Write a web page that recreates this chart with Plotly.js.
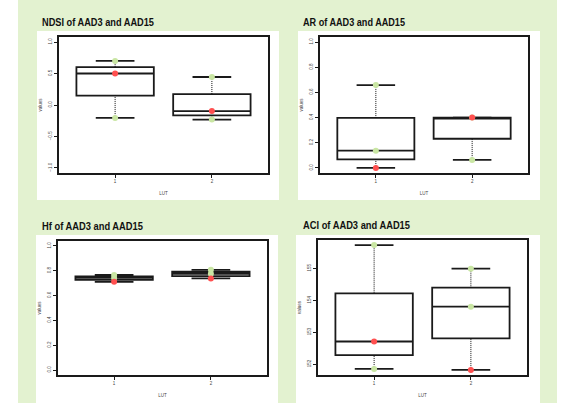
<!DOCTYPE html>
<html>
<head>
<meta charset="utf-8">
<script src="https://cdn.plot.ly/plotly-3.0.1.min.js"></script>
<style>html,body{margin:0;padding:0;background:#fff}#chart{width:562px;height:404px}</style>
</head>
<body>
<div id="chart"></div>
<script>
// ---- data ----
const lutCategories = [1, 2];
const lutTickLabels = ["1", "2"];
const panelTitles = ["NDSI of AAD3 and AAD15", "AR of AAD3 and AAD15", "Hf of AAD3 and AAD15", "ACI of AAD3 and AAD15"];

// green points and red point for each LUT group
const ndsiGreen = [[0.70, -0.205], [0.445, -0.232]];
const ndsiRed   = [[0.50], [-0.097]];
const arGreen   = [[0.658, 0.137], [0.40, 0.064]];
const arRed     = [[0.0], [0.40]];
const hfGreen   = [[0.766, 0.742], [0.808, 0.776]];
const hfRed     = [[0.711], [0.738]];
const aciGreen  = [[155.73, 151.85], [154.99, 153.80]];
const aciRed    = [[152.71], [151.82]];

const ndsiTicks = [-1.0, -0.5, 0.0, 0.5, 1.0];
const unitTicks = [0.0, 0.2, 0.4, 0.6, 0.8, 1.0];
const aciTicks  = [152, 153, 154, 155];

// ---- helpers ----
function fivenum(arr) {
  const x = arr.slice().sort((a, b) => a - b);
  const n = x.length;
  const n4 = Math.floor((n + 3) / 2) / 2;
  const d = [1, n4, (n + 1) / 2, n + 1 - n4, n];
  return d.map(v => 0.5 * (x[Math.floor(v) - 1] + x[Math.ceil(v) - 1]));
}

const W = 562, H = 404;
const px = v => v / W, py = v => 1 - v / H;

// layout geometry (pixels): frame, white panel, title position and rendered title width
const panels = [
  {frame: [59, 268, 37, 173],  white: [37, 279, 31, 200],  title: [40, 21.5],  titleW: 112},
  {frame: [320, 528, 37, 173], white: [298, 540, 31, 200], title: [301, 21.5], titleW: 102},
  {frame: [58, 267, 241, 375], white: [36, 278, 235, 403], title: [40, 225.5], titleW: 101},
  {frame: [318, 527, 240, 375],white: [296, 540, 235, 403],title: [301, 225],  titleW: 107}
];
const greens = [ndsiGreen, arGreen, hfGreen, aciGreen];
const reds = [ndsiRed, arRed, hfRed, aciRed];
const yRanges = [[-1.08, 1.08], [-0.04, 1.04], [-0.04, 1.04], [151.66, 155.89]];
const yTicks = [ndsiTicks, unitTicks, unitTicks, aciTicks];
const yFormats = [".1f", ".1f", ".1f", "d"];

const boxW = 0.8, capHalf = 0.2;
const lineCol = "#1a1a1a";
const traces = [];
const layout = {
  width: W, height: H,
  margin: {l: 0, r: 0, t: 0, b: 0},
  paper_bgcolor: "#ffffff",
  plot_bgcolor: "#ffffff",
  showlegend: false,
  shapes: [{type: "rect", xref: "paper", yref: "paper", x0: px(18), x1: px(557), y0: py(403), y1: py(0),
            fillcolor: "#e3f2d0", line: {width: 0}, layer: "below"}],
  annotations: []
};

panels.forEach((p, i) => {
  const s = i === 0 ? "" : String(i + 1);
  const xa = "x" + s, ya = "y" + s;
  layout.shapes.push({type: "rect", xref: "paper", yref: "paper",
    x0: px(p.white[0]), x1: px(p.white[1]), y0: py(p.white[3]), y1: py(p.white[2]),
    fillcolor: "#ffffff", line: {width: 0}, layer: "below"});
  const axFont = {family: "Liberation Sans, Arial, sans-serif", size: 4.5, color: "#444"};
  layout["xaxis" + s] = {
    domain: [px(p.frame[0]), px(p.frame[1])], anchor: ya,
    range: [0.42, 2.58], tickvals: lutCategories, ticktext: lutTickLabels,
    showgrid: false, zeroline: false, showline: true, mirror: true,
    linecolor: lineCol, linewidth: 2, ticks: "outside", ticklen: 3, tickwidth: 1, tickcolor: lineCol,
    tickfont: axFont, fixedrange: true,
    title: {text: "LUT", font: axFont, standoff: 8}
  };
  layout["yaxis" + s] = {
    domain: [py(p.frame[3]), py(p.frame[2])], anchor: xa,
    range: yRanges[i], tickvals: yTicks[i], tickformat: yFormats[i], tickangle: -90,
    showgrid: false, zeroline: false, showline: true, mirror: true,
    linecolor: lineCol, linewidth: 2, ticks: "outside", ticklen: 3, tickwidth: 1, tickcolor: lineCol,
    tickfont: axFont, fixedrange: true,
    title: {text: "values", font: axFont, standoff: 6}
  };
  layout.annotations.push({xref: "paper", yref: "paper", x: px(p.title[0]), y: py(p.title[1]),
    xanchor: "left", yanchor: "middle", showarrow: false, text: "<b>" + panelTitles[i] + "</b>",
    font: {family: "Liberation Sans, Arial, sans-serif", size: 11.5, color: "#111"}});

  lutCategories.forEach((lut, g) => {
    const vals = greens[i][g].concat(reds[i][g]);
    const f = fivenum(vals);
    traces.push({type: "box", xaxis: xa, yaxis: ya, x: [lut],
      q1: [f[1]], median: [f[2]], q3: [f[3]], lowerfence: [f[1]], upperfence: [f[3]],
      width: boxW, whiskerwidth: 0, fillcolor: "#ffffff", boxpoints: false,
      line: {color: lineCol, width: 1.8}, hoverinfo: "skip"});
    traces.push({type: "scatter", mode: "lines", xaxis: xa, yaxis: ya,
      x: [lut, lut, null, lut, lut], y: [f[0], f[1], null, f[3], f[4]],
      line: {color: "#111", width: 1, dash: "1px,1px"}, hoverinfo: "skip"});
    traces.push({type: "scatter", mode: "lines", xaxis: xa, yaxis: ya,
      x: [lut - capHalf, lut + capHalf, null, lut - capHalf, lut + capHalf], y: [f[0], f[0], null, f[4], f[4]],
      line: {color: lineCol, width: 1.8}, hoverinfo: "skip"});
    traces.push({type: "scatter", mode: "markers", xaxis: xa, yaxis: ya,
      x: greens[i][g].map(() => lut), y: greens[i][g],
      marker: {color: "#c9e6a3", size: 6}, hoverinfo: "skip"});
    traces.push({type: "scatter", mode: "markers", xaxis: xa, yaxis: ya,
      x: reds[i][g].map(() => lut), y: reds[i][g],
      marker: {color: "#ff5050", size: 6}, hoverinfo: "skip"});
  });
});

// condensed look for panel titles (the original uses a narrow bold face)
function condenseTitles() {
  document.querySelectorAll("#chart .annotation-text").forEach((el, k) => {
    if (el.getAttribute("data-condensed")) return;
    const b0 = el.getBBox();
    el.setAttribute("textLength", String(panels[k].titleW));
    el.setAttribute("lengthAdjust", "spacingAndGlyphs");
    const b1 = el.getBBox();
    const x = parseFloat(el.getAttribute("x") || "0");
    el.setAttribute("x", (x + (b0.x - b1.x)).toFixed(1));
    el.setAttribute("data-condensed", "1");
  });
}

Plotly.newPlot("chart", traces, layout, {staticPlot: true, displayModeBar: false}).then(condenseTitles);
</script>
</body>
</html>
